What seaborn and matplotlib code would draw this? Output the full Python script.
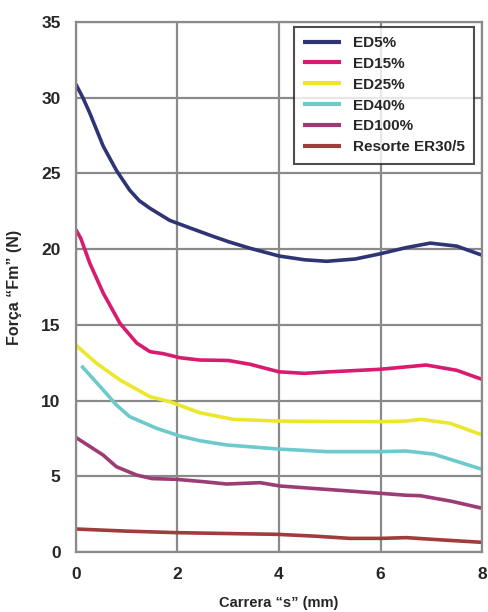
import matplotlib
matplotlib.use("Agg")
import matplotlib.pyplot as plt
import seaborn as sns
import pandas as pd

sns.set_style("white")
plt.rcParams["font.family"] = ["Liberation Sans", "DejaVu Sans"]

series_names = ["ED5%", "ED15%", "ED25%", "ED40%", "ED100%", "Resorte ER30/5"]
colors = ["#2f3474", "#d81b6f", "#ece72a", "#6dcacc", "#9c3c74", "#a23b3b"]

ed5_x = [0, 0.14, 0.276, 0.54, 0.8, 1.06, 1.25, 1.46, 1.85, 2.25, 2.7, 3.0, 3.43, 4.0, 4.5, 4.94, 5.5, 6.0, 6.5, 6.98, 7.5, 8.0]
ed5_y = [30.9, 30.0, 28.98, 26.8, 25.2, 23.9, 23.2, 22.7, 21.9, 21.4, 20.85, 20.5, 20.06, 19.55, 19.3, 19.2, 19.35, 19.7, 20.1, 20.4, 20.2, 19.6]
ed15_x = [0, 0.1, 0.276, 0.54, 0.87, 1.2, 1.46, 1.72, 2.05, 2.44, 3.0, 3.43, 4.0, 4.5, 5.0, 6.0, 6.9, 7.5, 8.0]
ed15_y = [21.3, 20.7, 19.07, 17.1, 15.1, 13.8, 13.23, 13.1, 12.83, 12.68, 12.65, 12.4, 11.9, 11.8, 11.9, 12.07, 12.35, 12.0, 11.4]
ed25_x = [0, 0.41, 0.87, 1.46, 1.85, 2.44, 3.1, 4.0, 5.0, 6.0, 6.5, 6.8, 7.37, 8.0]
ed25_y = [13.67, 12.46, 11.36, 10.26, 9.93, 9.2, 8.76, 8.65, 8.62, 8.61, 8.65, 8.76, 8.5, 7.73]
ed40_x = [0.11, 0.54, 0.8, 1.06, 1.59, 2.05, 2.44, 2.97, 4.0, 4.94, 6.0, 6.5, 7.04, 8.0]
ed40_y = [12.3, 10.7, 9.71, 8.94, 8.17, 7.66, 7.35, 7.07, 6.8, 6.63, 6.63, 6.67, 6.47, 5.46]
ed100_x = [0, 0.54, 0.8, 1.2, 1.5, 1.98, 2.5, 2.97, 3.63, 4.02, 4.67, 5.3, 5.99, 6.5, 6.78, 7.4, 8.0]
ed100_y = [7.57, 6.4, 5.63, 5.08, 4.85, 4.8, 4.65, 4.49, 4.58, 4.36, 4.2, 4.05, 3.88, 3.75, 3.72, 3.35, 2.89]
res_x = [0, 1, 1.98, 3, 3.95, 4.7, 5.4, 6.0, 6.51, 7.2, 8.0]
res_y = [1.52, 1.38, 1.28, 1.22, 1.17, 1.05, 0.9, 0.9, 0.95, 0.8, 0.64]

xs = [ed5_x, ed15_x, ed25_x, ed40_x, ed100_x, res_x]
ys = [ed5_y, ed15_y, ed25_y, ed40_y, ed100_y, res_y]
rows = []
for n, xx, yy in zip(series_names, xs, ys):
    for a, b in zip(xx, yy):
        rows.append({"s": a, "F": b, "serie": n})
df = pd.DataFrame(rows)

fig = plt.figure(figsize=(4.89, 6.12), dpi=100)
ax = fig.add_axes([0.155, 0.098, 0.831, 0.866])
sns.lineplot(data=df, x="s", y="F", hue="serie", hue_order=series_names,
             palette=colors, linewidth=2.6, sort=False, estimator=None, ax=ax)
for ln in ax.get_lines():
    ln.set_solid_joinstyle("round")
    ln.set_solid_capstyle("butt")

ax.set_xlim(0, 8)
ax.set_ylim(0, 35)
ax.set_xticks([0, 2, 4, 6, 8])
ax.set_yticks([0, 5, 10, 15, 20, 25, 30, 35])
ax.grid(True, color="#8a8a8a", linewidth=1.6)
ax.set_axisbelow(True)
for sp in ax.spines.values():
    sp.set_color("#8a8a8a")
    sp.set_linewidth(1.6)
ax.tick_params(axis="both", length=5, width=1.6, color="#8a8a8a",
               labelsize=12.5, pad=6)
for lab in ax.get_xticklabels() + ax.get_yticklabels():
    lab.set_fontweight("bold")
ax.set_xlabel("Carrera \u201cs\u201d (mm)", fontsize=10.5, fontweight="bold", labelpad=10)
ax.set_ylabel("For\u00e7a \u201cFm\u201d (N)", fontsize=11.5, fontweight="bold", labelpad=14)

leg = ax.legend(loc="upper right", bbox_to_anchor=(0.981, 0.991), frameon=True,
                fancybox=False, handlelength=2.5, handletextpad=0.8,
                labelspacing=0.45, borderpad=0.6, borderaxespad=0,
                prop={"weight": "bold", "size": 11})
leg.get_frame().set_edgecolor("#222222")
leg.get_frame().set_linewidth(1.5)
for line in leg.get_lines():
    line.set_linewidth(3)

fig.savefig("out.png", dpi=100, facecolor="white")
